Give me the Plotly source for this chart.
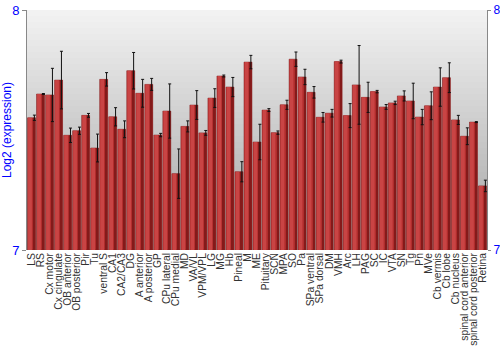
import plotly.graph_objects as go

regions = ["LS", "RS", "Cx motor", "Cx cingulate", "OB anterior", "OB posterior", "Pir", "Tu",
           "ventral S", "CA1", "CA2/CA3", "DG", "A anterior", "A posterior", "GP", "CPu lateral",
           "CPu medial", "MD", "VA/VL", "VPM/VPL", "LG", "MG", "Hb", "Pineal", "M", "ME",
           "Pituitary", "SCN", "MPA", "SO", "Pa", "SPa ventral", "SPa dorsal", "DM", "VMH", "Arc",
           "LH", "PAG", "SC", "IC", "VTA", "SN", "Tg", "Pn", "MVe", "Cb vermis", "Cb lobe",
           "Cb nucleus", "spinal cord anterior", "spinal cord posterior", "Retina"]

expression = [7.551, 7.650, 7.646, 7.708, 7.478, 7.497, 7.561, 7.425,
              7.711, 7.555, 7.503, 7.747, 7.653, 7.690, 7.479, 7.579,
              7.318, 7.515, 7.604, 7.488, 7.633, 7.725, 7.679, 7.326, 7.783, 7.450,
              7.583, 7.489, 7.605, 7.795, 7.721, 7.657, 7.553, 7.570, 7.785, 7.560,
              7.688, 7.636, 7.660, 7.596, 7.613, 7.642, 7.621, 7.554, 7.601, 7.679, 7.718,
              7.542, 7.474, 7.533, 7.267]

error = [0.011, 0.002, 0.111, 0.120, 0.030, 0.015, 0.008, 0.058,
         0.028, 0.038, 0.035, 0.076, 0.058, 0.025, 0.007, 0.113,
         0.103, 0.023, 0.060, 0.010, 0.039, 0.004, 0.040, 0.042, 0.028, 0.074,
         0.006, 0.007, 0.019, 0.030, 0.032, 0.024, 0.020, 0.016, 0.006, 0.050,
         0.164, 0.063, 0.005, 0.010, 0.007, 0.021, 0.074, 0.032, 0.058, 0.080, 0.062,
         0.019, 0.035, 0.002, 0.024]

y_ticks = [7, 8]
y_min, y_max = 7, 8

bases = [y_min] * len(regions)
heights = [v - y_min for v in expression]

fig = go.Figure()

# main bar body
fig.add_trace(go.Bar(
    x=regions, y=heights, base=bases, width=0.88,
    marker=dict(color="#b02c2c", line=dict(color="#7e1616", width=0.5)),
    hoverinfo="skip", showlegend=False,
))
# lighter highlight on the left
fig.add_trace(go.Bar(
    x=regions, y=heights, base=bases, width=0.42, offset=-0.38,
    marker=dict(color="#c94444", line=dict(width=0)),
    hoverinfo="skip", showlegend=False,
))
# dark shade on the right
fig.add_trace(go.Bar(
    x=regions, y=heights, base=bases, width=0.2, offset=0.22,
    marker=dict(color="#841a1a", line=dict(width=0)),
    error_y=dict(type="data", array=error, color="#111111", thickness=1, width=1.5),
    hoverinfo="skip", showlegend=False,
))
# invisible trace for right axis
fig.add_trace(go.Scatter(x=[regions[0]], y=[y_min], yaxis="y2", mode="markers",
                         marker=dict(opacity=0), hoverinfo="skip", showlegend=False))

# gradient background stripes
n = 40
shapes = []
for i in range(n):
    t = i / (n - 1)
    g = int(round(0xf2 - (0xf2 - 0xa4) * t))
    shapes.append(dict(type="rect", xref="paper", yref="paper", x0=0, x1=1,
                       y0=1 - (i + 1) / n, y1=1 - i / n, layer="below",
                       line=dict(width=0), fillcolor=f"rgb({g},{g},{g})"))

fig.update_layout(
    width=500, height=350,
    margin=dict(l=27, r=13, t=10, b=100),
    paper_bgcolor="white", plot_bgcolor="rgba(0,0,0,0)",
    barmode="overlay", bargap=0.1,
    shapes=shapes,
    font=dict(family="Liberation Sans, Arial, sans-serif", size=10.3, color="#333333"),
    xaxis=dict(tickangle=-90, tickfont=dict(size=10.3, color="#333333"),
               tickmode="array", tickvals=regions, ticktext=regions, automargin=False,
               showgrid=False, showline=False, ticks="", range=[-0.5, len(regions) - 0.5]),
    yaxis=dict(range=[y_min, y_max], tickvals=y_ticks, ticks="outside", ticklen=4,
               tickcolor="#888888", showline=True, linecolor="#888888", linewidth=1,
               showgrid=False, zeroline=False, automargin=False,
               tickfont=dict(size=13, color="#0000ff"),
               title=dict(text="Log2 (expression)", font=dict(size=12, color="#0000ff"), standoff=0)),
    yaxis2=dict(range=[y_min, y_max], tickvals=y_ticks, overlaying="y", side="right",
                ticks="outside", ticklen=3, tickcolor="#888888", showline=True,
                linecolor="#888888", linewidth=1, showgrid=False, zeroline=False,
                automargin=False, tickfont=dict(size=12, color="#0000ff")),
)

fig.write_html("out.html")
